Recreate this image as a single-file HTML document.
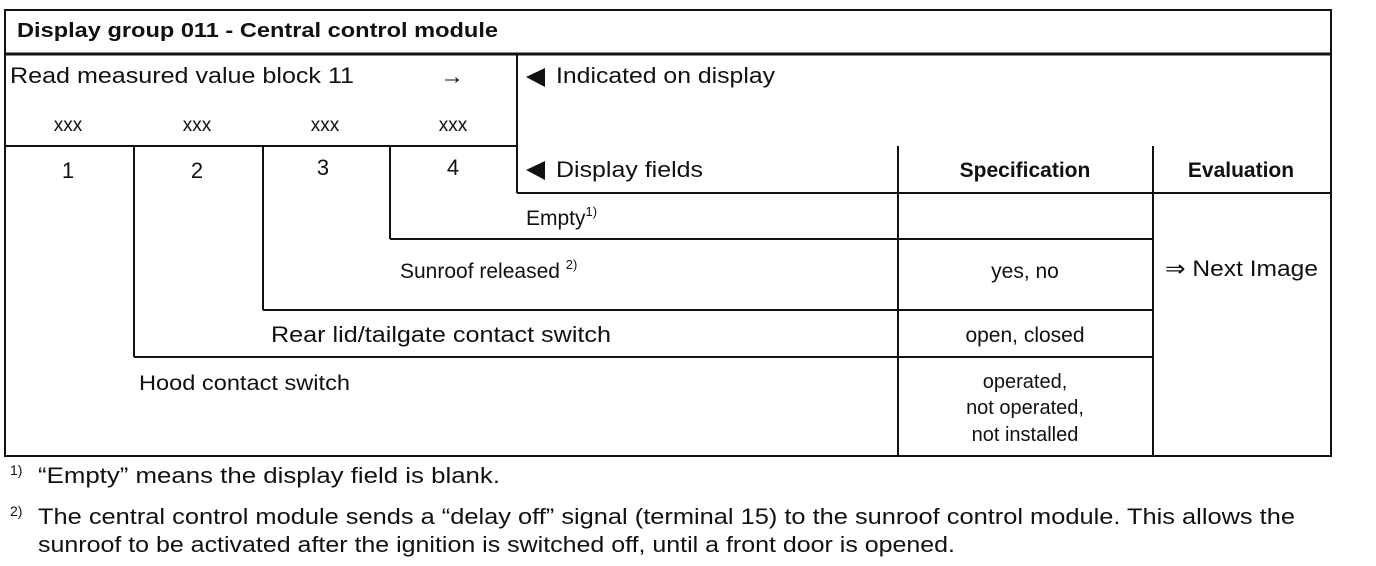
<!DOCTYPE html>
<html><head><meta charset="utf-8"><style>
html,body{margin:0;padding:0;background:#fff;width:1376px;height:566px;overflow:hidden}
svg{display:block}
text{font-family:"Liberation Sans",Arial,sans-serif;fill:#111}
</style></head><body>
<svg width="1376" height="566" viewBox="0 0 1376 566" xmlns="http://www.w3.org/2000/svg">
<g stroke="#111" stroke-width="2" fill="none">
<rect x="5" y="10" width="1326" height="446"/>
<line x1="5" y1="54" x2="1331" y2="54" stroke-width="3"/>
<line x1="5" y1="146" x2="517" y2="146"/>
<line x1="517" y1="54" x2="517" y2="193"/>
<line x1="517" y1="193" x2="1331" y2="193"/>
<line x1="898" y1="146" x2="898" y2="456"/>
<line x1="1153" y1="146" x2="1153" y2="456"/>
<line x1="390" y1="239" x2="1153" y2="239"/>
<line x1="263" y1="310" x2="1153" y2="310"/>
<line x1="134" y1="357" x2="1153" y2="357"/>
<line x1="134" y1="146" x2="134" y2="357"/>
<line x1="263" y1="146" x2="263" y2="310"/>
<line x1="390" y1="146" x2="390" y2="239"/>
</g>
<text x="17" y="37" font-size="20" font-weight="bold" textLength="481" lengthAdjust="spacingAndGlyphs">Display group 011 - Central control module</text>
<text x="10" y="83" font-size="22" textLength="344" lengthAdjust="spacingAndGlyphs">Read measured value block 11</text>
<text x="440" y="84" font-size="24">→</text>
<g font-size="19" text-anchor="middle">
<text x="68" y="131">xxx</text><text x="197" y="131">xxx</text><text x="325" y="131">xxx</text><text x="453" y="131">xxx</text>
</g>
<polygon points="526,77 545,68 545,87" fill="#111"/>
<text x="556" y="83" font-size="22" textLength="219" lengthAdjust="spacingAndGlyphs">Indicated on display</text>
<g font-size="22" text-anchor="middle">
<text x="68" y="178">1</text><text x="197" y="178">2</text><text x="323" y="175">3</text><text x="453" y="175">4</text>
</g>
<polygon points="526,170 545,161 545,180" fill="#111"/>
<text x="556" y="177" font-size="22" textLength="147" lengthAdjust="spacingAndGlyphs">Display fields</text>
<text x="1025" y="177" font-size="21" font-weight="bold" text-anchor="middle">Specification</text>
<text x="1241" y="177" font-size="21" font-weight="bold" text-anchor="middle">Evaluation</text>
<text x="526" y="225" font-size="21">Empty<tspan font-size="13" dy="-9">1)</tspan></text>
<text x="400" y="278" font-size="21">Sunroof released <tspan font-size="13" dy="-9">2)</tspan></text>
<text x="1025" y="278" font-size="21" text-anchor="middle">yes, no</text>
<text x="1165" y="276" font-size="22" textLength="153" lengthAdjust="spacingAndGlyphs">⇒ Next Image</text>
<text x="271" y="342" font-size="22" textLength="340" lengthAdjust="spacingAndGlyphs">Rear lid/tailgate contact switch</text>
<text x="1025" y="342" font-size="21" text-anchor="middle">open, closed</text>
<text x="139" y="390" font-size="21" textLength="211" lengthAdjust="spacingAndGlyphs">Hood contact switch</text>
<g font-size="20" text-anchor="middle">
<text x="1025" y="388">operated,</text>
<text x="1025" y="414">not operated,</text>
<text x="1025" y="441">not installed</text>
</g>
<text x="10" y="475" font-size="14">1)</text>
<text x="38" y="483" font-size="22" textLength="462" lengthAdjust="spacingAndGlyphs">“Empty” means the display field is blank.</text>
<text x="10" y="516" font-size="14">2)</text>
<text x="38" y="524" font-size="22" textLength="1257" lengthAdjust="spacingAndGlyphs">The central control module sends a “delay off” signal (terminal 15) to the sunroof control module.  This allows the</text>
<text x="38" y="552" font-size="22" textLength="917" lengthAdjust="spacingAndGlyphs">sunroof to be activated after the ignition is switched off, until a front door is opened.</text>
</svg>
</body></html>
